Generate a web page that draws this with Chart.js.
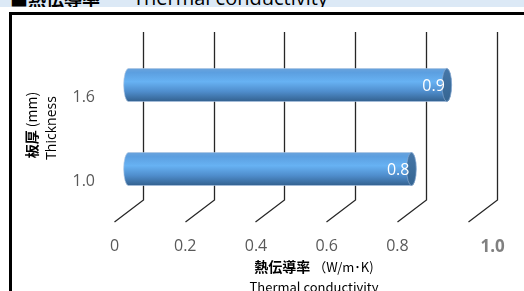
<!DOCTYPE html>
<html><head><meta charset="utf-8">
<script src="https://cdn.jsdelivr.net/npm/chart.js@4"></script>
<style>
html,body{margin:0;padding:0;background:#fff;width:524px;height:291px;overflow:hidden;}
#band{position:absolute;left:0;top:0;width:524px;height:7px;background:#dce9f6;overflow:hidden;}
#band span{position:absolute;top:-11px;color:#000;white-space:nowrap;line-height:18px;}
#t1{left:10px;font:bold 18px "Noto Sans CJK JP";}
#t2{left:133px;font:20px "Open Sans";}
#box{position:absolute;left:9px;top:12px;width:600px;height:400px;border:3px solid #000;}
canvas{position:absolute;left:0;top:0;}
</style></head>
<body>
<div id="band"><span id="t1">■熱伝導率</span><span id="t2">Thermal conductivity</span></div>
<div id="box"></div>
<canvas id="c" width="524" height="291"></canvas>
<script>
const categories = ['1.6', '1.0'];
const values = [0.9, 0.8];
const valueLabels = ['0.9', '0.8'];
const xTicks = [0, 0.2, 0.4, 0.6, 0.8, 1.0];
const lastTickLabel = '1.0';
const xTitleJa = '熱伝導率';
const xTitleUnit = ' （W/m･K)';
const xTitleEn = 'Thermal conductivity';
const yTitleJa = '板厚';
const yTitleUnit = ' (mm)';
const yTitleEn = 'Thickness';

const DEPTH_DX = -29, DEPTH_DY = 22;

function zeroPad(s) { s.paddingTop = 0; s.paddingBottom = 0; s.paddingLeft = 0; s.paddingRight = 0; }

const cylPlugin = {
  id: 'cyl3d',
  beforeDatasetsDraw(chart) {
    const ctx = chart.ctx, xs = chart.scales.x, ca = chart.chartArea;
    ctx.save();
    ctx.strokeStyle = '#262626';
    ctx.lineWidth = 1.3;
    xTicks.forEach(v => {
      const px = Math.round(xs.getPixelForValue(v)) + 0.5;
      ctx.beginPath();
      ctx.moveTo(px, ca.top);
      ctx.lineTo(px, ca.bottom);
      ctx.lineTo(px + DEPTH_DX, ca.bottom + DEPTH_DY);
      ctx.stroke();
    });
    ctx.restore();
  },
  afterDatasetsDraw(chart) {
    const ctx = chart.ctx, xs = chart.scales.x;
    const meta = chart.getDatasetMeta(0);
    ctx.save();
    meta.data.forEach((bar, i) => {
      const p = bar.getProps(['x', 'y', 'base', 'height'], true);
      const dx = DEPTH_DX / 2, dy = DEPTH_DY / 2;
      const xl = p.base + dx, xr = p.x + dx, cy = p.y + dy, h = p.height;
      const top = cy - h / 2, bot = cy + h / 2, rx = 4.8, ry = h / 2;
      const g = ctx.createLinearGradient(0, top, 0, bot);
      g.addColorStop(0, '#6aa3dc');
      g.addColorStop(0.12, '#5c9fe0');
      g.addColorStop(0.4, '#67b2f3');
      g.addColorStop(0.7, '#4f8dcc');
      g.addColorStop(1, '#33618f');
      ctx.beginPath();
      ctx.moveTo(xl, top);
      ctx.lineTo(xr, top);
      ctx.ellipse(xr, cy, rx, ry, 0, -Math.PI / 2, Math.PI / 2);
      ctx.lineTo(xl, bot);
      ctx.ellipse(xl, cy, rx, ry, 0, Math.PI / 2, Math.PI * 1.5);
      ctx.closePath();
      ctx.fillStyle = g;
      ctx.fill();
      ctx.strokeStyle = 'rgba(170,195,225,0.8)';
      ctx.lineWidth = 0.8;
      ctx.stroke();
      const cg = ctx.createLinearGradient(0, top, 0, bot);
      cg.addColorStop(0, '#4677a8');
      cg.addColorStop(1, '#356592');
      ctx.beginPath();
      ctx.ellipse(xr, cy, rx, ry, 0, 0, Math.PI * 2);
      ctx.fillStyle = cg;
      ctx.fill();
      ctx.strokeStyle = 'rgba(150,180,215,0.7)';
      ctx.stroke();
      ctx.fillStyle = '#ffffff';
      ctx.font = '16px "Open Sans"';
      ctx.textAlign = 'right';
      ctx.textBaseline = 'middle';
      ctx.fillText(valueLabels[i], xr - 2, cy + 1);
    });

    ctx.fillStyle = '#808080';
    ctx.font = 'bold 17px "Open Sans"';
    ctx.textAlign = 'center';
    ctx.textBaseline = 'middle';
    ctx.fillText(lastTickLabel, xs.getPixelForValue(1.0) - 4, 247);

    ctx.fillStyle = '#000';
    ctx.font = 'bold 14px "Noto Sans CJK JP"';
    const w1 = ctx.measureText(xTitleJa).width;
    ctx.font = '13px "Noto Sans CJK JP"';
    const w2 = ctx.measureText(xTitleUnit).width;
    const sx = 314 - (w1 + w2) / 2;
    ctx.textAlign = 'left';
    ctx.font = 'bold 14px "Noto Sans CJK JP"';
    ctx.fillText(xTitleJa, sx, 267);
    ctx.font = '13px "Noto Sans CJK JP"';
    ctx.fillText(xTitleUnit, sx + w1, 267);
    ctx.textAlign = 'center';
    ctx.fillText(xTitleEn, 314, 287);

    ctx.save();
    ctx.translate(32, 125);
    ctx.rotate(-Math.PI / 2);
    ctx.font = 'bold 14px "Noto Sans CJK JP"';
    const v1 = ctx.measureText(yTitleJa).width;
    ctx.font = '14px "Noto Sans CJK JP"';
    const v2 = ctx.measureText(yTitleUnit).width;
    ctx.textAlign = 'left';
    ctx.font = 'bold 14px "Noto Sans CJK JP"';
    ctx.fillText(yTitleJa, -(v1 + v2) / 2, 0);
    ctx.font = '14px "Noto Sans CJK JP"';
    ctx.fillText(yTitleUnit, -(v1 + v2) / 2 + v1, 0);
    ctx.restore();
    ctx.save();
    ctx.translate(52, 128);
    ctx.rotate(-Math.PI / 2);
    ctx.textAlign = 'center';
    ctx.font = '14px "Open Sans"';
    ctx.fillText(yTitleEn, 0, 0);
    ctx.restore();
    ctx.restore();
  }
};

new Chart(document.getElementById('c'), {
  type: 'bar',
  data: {
    labels: categories,
    datasets: [{
      data: values,
      backgroundColor: 'rgba(0,0,0,0)',
      borderWidth: 0,
      barThickness: 33
    }]
  },
  options: {
    indexAxis: 'y',
    responsive: false,
    animation: false,
    devicePixelRatio: 1,
    layout: { padding: { top: 32, left: 10, right: 27.3, bottom: 0 } },
    plugins: { legend: { display: false }, tooltip: { enabled: false } },
    scales: {
      x: {
        type: 'linear',
        min: 0, max: 1.0,
        afterFit(s) { s.height = 91; zeroPad(s); },
        afterBuildTicks(s) { s.ticks = xTicks.map(v => ({ value: v })); },
        grid: { display: false, drawTicks: false },
        border: { display: false },
        ticks: {
          autoSkip: false, maxRotation: 0,
          padding: 37,
          labelOffset: -28.5,
          color: '#595959',
          font: { family: 'Open Sans', size: 16 },
          callback: (v) => (Math.abs(v - 1) < 1e-9 ? '' : (v === 0 ? '0' : Number(v).toFixed(1)))
        }
      },
      y: {
        afterFit(s) { s.width = 133; zeroPad(s); },
        grid: { display: false, drawTicks: false },
        border: { display: false },
        ticks: {
          padding: 48,
          labelOffset: 23,
          color: '#595959',
          font: { family: 'Open Sans', size: 16 }
        }
      }
    }
  },
  plugins: [cylPlugin]
});
</script>
</body></html>
